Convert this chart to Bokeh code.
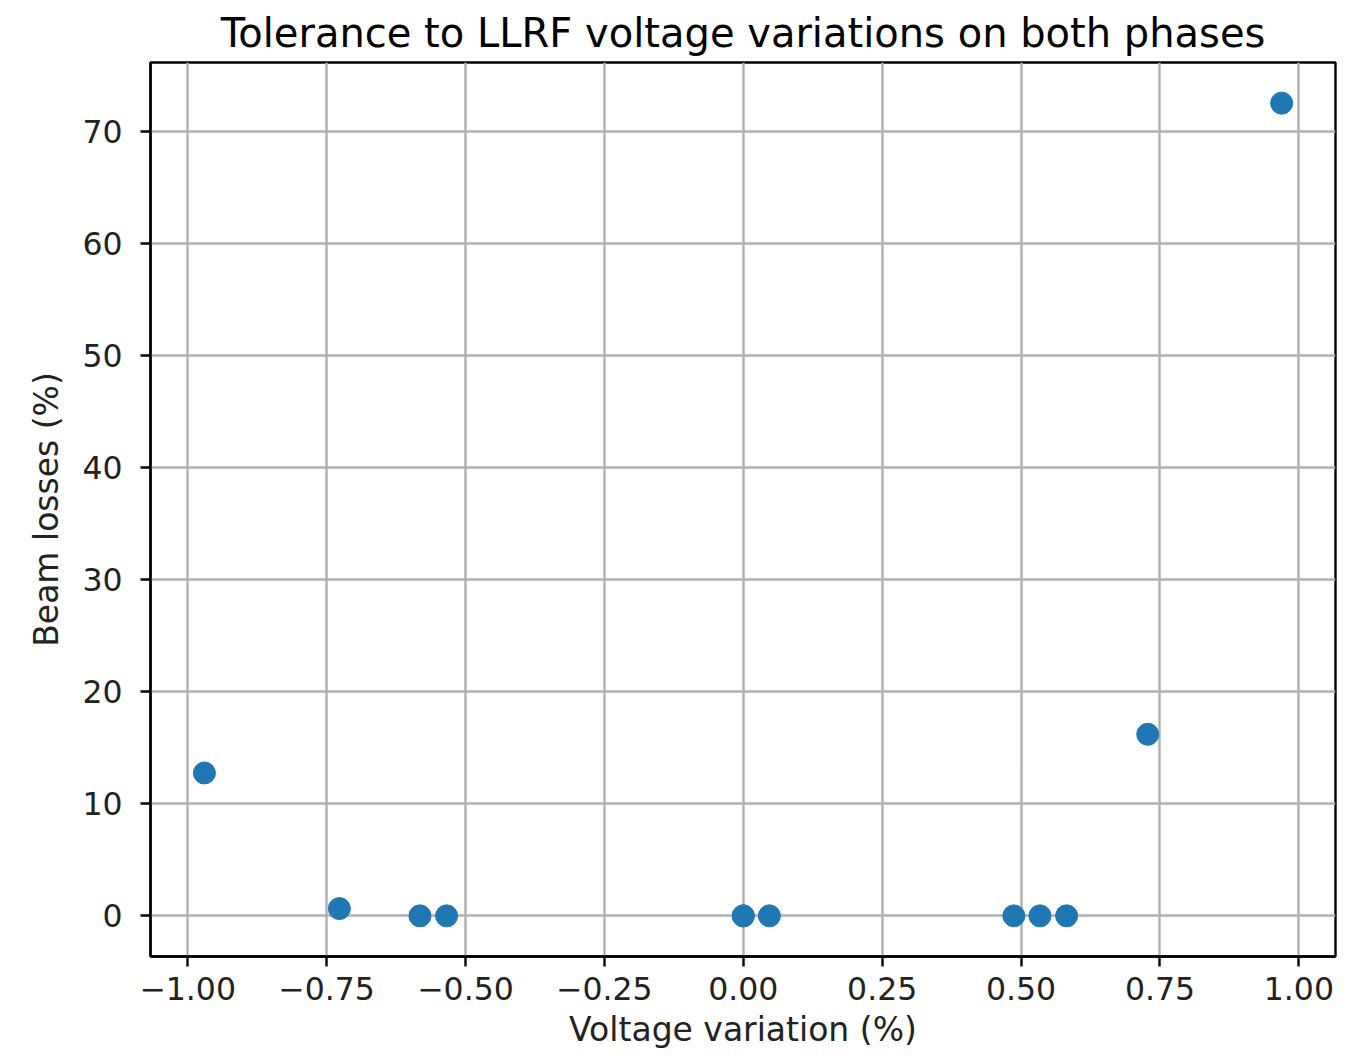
from bokeh.plotting import figure
from bokeh.models import Range1d, FixedTicker, ColumnDataSource
from bokeh.embed import file_html
from bokeh.resources import INLINE

# Data
voltage_variation = [-0.970, -0.727, -0.582, -0.534, 0.000, 0.000, 0.047, 0.487, 0.534, 0.582, 0.728, 0.969]
beam_losses = [12.75, 0.65, 0.0, 0.0, 0.0, 0.0, 0.0, 0.0, 0.0, 0.0, 16.2, 72.5]

x_ticks = [-1.0, -0.75, -0.5, -0.25, 0.0, 0.25, 0.5, 0.75, 1.0]
x_tick_labels = ["\u22121.00", "\u22120.75", "\u22120.50", "\u22120.25", "0.00", "0.25", "0.50", "0.75", "1.00"]
y_ticks = [0, 10, 20, 30, 40, 50, 60, 70]
y_tick_labels = ["0", "10", "20", "30", "40", "50", "60", "70"]

title_text = "Tolerance to LLRF voltage variations on both phases"
x_label = "Voltage variation (%)"
y_label = "Beam losses (%)"

FONT = "DejaVu Sans"

xmin, xmax = min(voltage_variation), max(voltage_variation)
ymin, ymax = min(beam_losses), max(beam_losses)
xm = 0.05 * (xmax - xmin)
ym = 0.05 * (ymax - ymin)

p = figure(
    width=1339, height=1052,
    output_backend="svg", toolbar_location=None,
    x_range=Range1d(xmin - xm, xmax + xm),
    y_range=Range1d(ymin - ym, ymax + ym),
    min_border_left=150, min_border_right=4,
    min_border_top=62, min_border_bottom=96,
)
p.title.text = title_text
p.title.text_font = FONT
p.title.text_font_size = "40px"
p.title.text_font_style = "normal"
p.title.align = "center"
p.title.text_color = "black"
p.title.text_line_height = 1.0
p.title.standoff = 14

p.background_fill_color = "white"
p.border_fill_color = "white"
p.outline_line_color = "black"
p.outline_line_width = 2.4

src = ColumnDataSource(dict(x=voltage_variation, y=beam_losses))
p.scatter("x", "y", source=src, size=22, color="#1f77b4", line_color="#1f77b4")

p.xaxis.ticker = FixedTicker(ticks=x_ticks)
p.xaxis.major_label_overrides = {t: l for t, l in zip(x_ticks, x_tick_labels)}
p.yaxis.ticker = FixedTicker(ticks=y_ticks)
p.yaxis.major_label_overrides = {t: l for t, l in zip(y_ticks, y_tick_labels)}

for ax in (p.xaxis, p.yaxis):
    ax.axis_line_color = "black"
    ax.axis_line_width = 2.4
    ax.major_tick_line_color = "black"
    ax.major_tick_line_width = 2.4
    ax.major_tick_out = 10
    ax.major_tick_in = 0
    ax.minor_tick_line_color = None
    ax.major_label_text_font = FONT
    ax.major_label_text_font_size = "31.5px"
    ax.major_label_text_color = "#222222"
    ax.axis_label_text_font = FONT
    ax.axis_label_text_font_size = "33px"
    ax.axis_label_text_font_style = "normal"
    ax.axis_label_text_color = "#222222"

p.xaxis.major_label_standoff = 10
p.xaxis.axis_label_standoff = 7
p.yaxis.major_label_standoff = 18
p.yaxis.axis_label_standoff = 13

p.xaxis.axis_label = x_label
p.yaxis.axis_label = y_label

p.grid.grid_line_color = "#b0b0b0"
p.grid.grid_line_width = 2.4

open("out.html", "w").write(file_html(p, INLINE))
